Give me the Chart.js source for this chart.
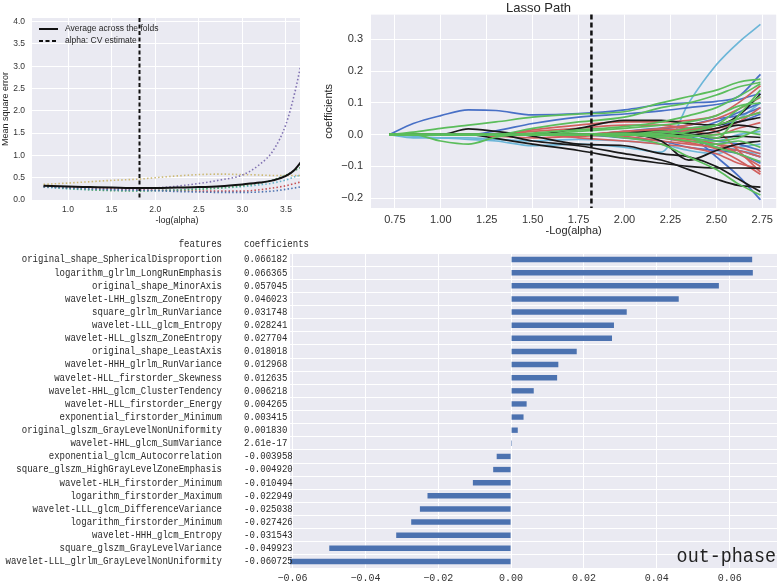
<!DOCTYPE html>
<html>
<head>
<meta charset="utf-8">
<script src="https://cdn.jsdelivr.net/npm/chart.js"></script>
<style>
  body { margin: 0; background: #fff; width: 778px; height: 583px; overflow: hidden; position: relative; }
  canvas { position: absolute; background: #fff; }
  #cv { left: 0; top: 0; }
  #path { left: 300px; top: 0; }
  #coef { left: 0; top: 238px; }
</style>
</head>
<body>
<canvas id="cv" width="325" height="230"></canvas>
<canvas id="path" width="478" height="238"></canvas>
<canvas id="coef" width="778" height="345"></canvas>
<script>
// ---- cross-validation curves (top left)
const alphaCV = 1.82;
const cvX = [0.72, 1.0, 1.25, 1.5, 1.83, 2.0, 2.25, 2.5, 2.75, 3.0, 3.2, 3.35, 3.5, 3.6, 3.7];
const meanMse = [0.32, 0.30, 0.29, 0.28, 0.27, 0.27, 0.28, 0.29, 0.31, 0.35, 0.39, 0.44, 0.54, 0.68, 0.92];
const foldBlue = [0.30, 0.27, 0.25, 0.23, 0.22, 0.21, 0.19, 0.18, 0.17, 0.17, 0.18, 0.20, 0.24, 0.27, 0.31];
const foldGreen = [0.30, 0.26, 0.23, 0.21, 0.20, 0.21, 0.22, 0.24, 0.27, 0.32, 0.38, 0.45, 0.56, 0.66, 0.76];
const foldRed = [0.30, 0.28, 0.27, 0.25, 0.23, 0.22, 0.21, 0.20, 0.20, 0.20, 0.23, 0.27, 0.32, 0.37, 0.42];
const foldPurple = [0.30, 0.29, 0.28, 0.27, 0.26, 0.27, 0.31, 0.37, 0.45, 0.56, 0.80, 1.10, 1.70, 2.40, 3.30];
const foldYellow = [0.35, 0.38, 0.41, 0.44, 0.47, 0.50, 0.54, 0.57, 0.58, 0.57, 0.56, 0.55, 0.55, 0.55, 0.55];
const foldCyan = [0.29, 0.25, 0.23, 0.22, 0.21, 0.22, 0.23, 0.25, 0.27, 0.30, 0.34, 0.38, 0.45, 0.52, 0.58];
const cvXTicks = [1.0, 1.5, 2.0, 2.5, 3.0, 3.5];
const cvYTicks = [0, 0.5, 1.0, 1.5, 2.0, 2.5, 3.0, 3.5, 4.0];

// ---- lasso path (top right)
const lassoX = [0.72, 0.85, 1.0, 1.15, 1.3, 1.5, 1.75, 2.0, 2.2, 2.35, 2.5, 2.62, 2.74];
const lassoGreen = [
  [0, 0, 0, 0, 0, 0, 0, 0.005, 0, -0.005, 0, 0.01, 0],
  [0, 0.008, 0.02, 0.03, 0.04, 0.055, 0.065, 0.072, 0.1, 0.12, 0.14, 0.165, 0.175],
  [0, 0, -0.02, -0.03, -0.008, 0.005, 0.015, 0.025, 0.04, 0.06, 0.085, 0.12, 0.16],
  [0, 0, 0, 0, 0, 0.02, 0.04, 0.055, 0.085, 0.1, 0.125, 0.15, 0.165],
  [0, 0, 0, 0, 0, 0, 0, -0.01, -0.03, -0.07, -0.11, -0.155, -0.19],
  [0, 0, 0, 0, 0, 0, 0, 0, 0.01, 0, -0.01, 0.06, 0.14],
  [0, 0, 0, 0, 0, 0, 0, 0, 0, -0.01, -0.02, -0.01, 0.02],
  [0, 0, 0, 0, 0, 0, 0, 0, -0.005, -0.01, -0.04, -0.06, -0.085],
  [0, 0, 0, 0, 0, 0, 0.01, 0.02, 0.03, 0.04, 0.06, 0.09, 0.1],
  [0, 0, 0, 0, 0, 0, 0, 0, 0.005, 0.02, 0.03, 0.05, 0.07],
  [0, 0, 0, 0, 0, 0, 0, 0, 0, 0.01, 0.03, 0.08, 0.12],
  [0, 0, 0, 0, 0, 0, 0, 0, -0.01, -0.02, -0.03, -0.02, -0.04]
];
const lassoBlack = [
  [0, 0, 0, 0.018, 0.01, -0.005, -0.03, -0.035, -0.06, -0.07, -0.1, -0.14, -0.18],
  [0, 0, 0, 0, -0.012, -0.03, -0.05, -0.075, -0.09, -0.1, -0.105, -0.105, -0.106],
  [0, 0, 0, 0, 0, -0.02, -0.035, -0.06, -0.08, -0.11, -0.14, -0.16, -0.165],
  [0, 0, 0, 0, 0, 0, 0.02, 0.045, 0.045, 0.035, 0.03, 0.06, 0.128],
  [0, 0, 0, 0, 0, 0, 0, 0, -0.02, -0.08, -0.05, -0.03, -0.02],
  [0, 0, 0, 0, 0, 0, 0, 0, 0, 0.005, 0.02, 0.04, 0.054],
  [0, 0, 0, 0, 0, 0, 0, 0.005, 0.01, 0, -0.01, -0.005, -0.009],
  [0, 0, 0, 0, 0, 0, 0, 0, 0, 0, 0.01, 0.03, 0.02]
];
const lassoRed = [
  [0, 0, 0, 0, 0, 0.015, 0.03, 0.04, 0.04, 0.045, 0.06, 0.1, 0.154],
  [0, 0, 0, 0, 0, 0.01, 0.02, 0.03, 0.03, 0.02, 0.01, -0.05, -0.118],
  [0, 0, 0, 0, 0, 0, -0.01, -0.02, -0.03, -0.04, -0.06, -0.09, -0.107],
  [0, 0, 0, 0, 0, 0, 0, 0.01, 0.02, 0.03, 0.05, 0.08, 0.118],
  [0, 0, 0, 0, 0, 0, 0, -0.005, -0.02, -0.03, -0.04, -0.05, -0.07],
  [0, 0, 0, 0, 0, 0, 0, 0, 0.01, 0.015, 0.02, 0.04, 0.085],
  [0, 0, 0, 0, 0, 0, 0, 0, -0.01, -0.025, -0.045, -0.08, -0.125],
  [0, 0, 0, 0, 0, 0, 0, 0, 0, 0.01, 0, 0.02, 0.038],
  [0, 0, 0, 0, -0.005, -0.01, -0.005, 0, -0.01, -0.02, -0.03, -0.04, -0.06],
  [0, 0, 0, 0, 0, 0, 0, 0.01, 0.015, 0.02, 0.03, 0.05, 0.07],
  [0, 0, 0, 0, 0, 0, 0, 0, -0.005, -0.015, -0.03, -0.06, -0.1]
];
const lassoBlue = [
  [0, 0.035, 0.06, 0.078, 0.076, 0.062, 0.066, 0.078, 0.095, 0.1, 0.105, 0.12, 0.19],
  [0, 0, 0, 0, 0.012, 0.035, 0.055, 0.065, 0.075, 0.085, 0.095, 0.11, 0.13],
  [0, 0, 0, 0, 0, 0, 0, 0.01, 0.02, 0, -0.07, -0.13, -0.205],
  [0, 0, 0, 0, 0, 0, 0, 0, 0.02, 0.03, 0.05, 0.06, 0.085],
  [0, 0, 0, 0, 0, 0, 0, -0.01, -0.02, -0.04, -0.05, -0.06, -0.09],
  [0, 0, 0, 0, 0, 0, 0, 0, 0, 0.01, 0.03, 0.04, 0.064],
  [0, 0, 0, 0, 0, 0, 0, 0, 0, 0, -0.02, -0.03, -0.05],
  [0, 0, 0, 0, 0, 0, 0, 0, 0.005, 0.015, 0.04, 0.07, 0.1],
  [0, 0, 0, 0, 0, 0, 0, 0, 0, -0.01, -0.04, -0.05, -0.07]
];
const lassoCyan = [
  [0, -0.01, -0.01, -0.015, -0.02, -0.035, -0.03, -0.04, -0.055, 0.1, 0.22, 0.29, 0.347],
  [0, -0.005, -0.01, -0.01, -0.015, -0.02, -0.015, -0.02, -0.03, -0.05, -0.06, -0.04, -0.03],
  [0, 0, 0, 0, 0, 0, 0, 0, 0.01, 0.02, 0.03, 0.05, 0.1],
  [0, 0, 0, 0, 0, 0, 0, 0, 0, -0.01, -0.02, 0, 0.01],
  [0, 0, 0, 0, 0, 0, 0, 0, 0, -0.005, -0.03, -0.05, -0.06]
];
const lassoXTicks = [0.75, 1.0, 1.25, 1.5, 1.75, 2.0, 2.25, 2.5, 2.75];
const lassoYTicks = [-0.2, -0.1, 0, 0.1, 0.2, 0.3];

// ---- selected features (bottom)
const featureNames = [
  'original_shape_SphericalDisproportion',
  'logarithm_glrlm_LongRunEmphasis',
  'original_shape_MinorAxis',
  'wavelet-LHH_glszm_ZoneEntropy',
  'square_glrlm_RunVariance',
  'wavelet-LLL_glcm_Entropy',
  'wavelet-HLL_glszm_ZoneEntropy',
  'original_shape_LeastAxis',
  'wavelet-HHH_glrlm_RunVariance',
  'wavelet-HLL_firstorder_Skewness',
  'wavelet-HHL_glcm_ClusterTendency',
  'wavelet-HLL_firstorder_Energy',
  'exponential_firstorder_Minimum',
  'original_glszm_GrayLevelNonUniformity',
  'wavelet-HHL_glcm_SumVariance',
  'exponential_glcm_Autocorrelation',
  'square_glszm_HighGrayLevelZoneEmphasis',
  'wavelet-HLH_firstorder_Minimum',
  'logarithm_firstorder_Maximum',
  'wavelet-LLL_glcm_DifferenceVariance',
  'logarithm_firstorder_Minimum',
  'wavelet-HHH_glcm_Entropy',
  'square_glszm_GrayLevelVariance',
  'wavelet-LLL_glrlm_GrayLevelNonUniformity'
];
const coefValues = [
  0.066182, 0.066365, 0.057045, 0.046023, 0.031748, 0.028241, 0.027704, 0.018018,
  0.012968, 0.012635, 0.006218, 0.004265, 0.003415, 0.001830, 2.61e-17, -0.003958,
  -0.004920, -0.010494, -0.022949, -0.025038, -0.027426, -0.031543, -0.049923, -0.060725
];
const coefXTicks = [-0.06, -0.04, -0.02, 0, 0.02, 0.04, 0.06];

Chart.defaults.font.family = '"Liberation Sans", Arial, sans-serif';
Chart.defaults.color = '#262626';

const PLOT_BG = '#EAEAF2';
const minus = s => s.replace('-', '\u2212');

const plotBg = {
  id: 'plotBg',
  beforeDraw(chart) {
    const a = chart.chartArea, ctx = chart.ctx;
    ctx.save();
    ctx.fillStyle = PLOT_BG;
    ctx.fillRect(a.left, a.top, a.right - a.left, a.bottom - a.top);
    ctx.restore();
  }
};

const cvLine = {
  id: 'cvLine',
  afterDatasetsDraw(chart, args, opts) {
    const a = chart.chartArea, ctx = chart.ctx;
    const x = chart.scales.x.getPixelForValue(alphaCV);
    ctx.save();
    ctx.strokeStyle = '#111';
    ctx.lineWidth = opts.width || 2;
    ctx.setLineDash(opts.dash || [4, 2.5]);
    ctx.beginPath();
    ctx.moveTo(x, a.top);
    ctx.lineTo(x, a.bottom);
    ctx.stroke();
    ctx.restore();
  }
};

function fixedTicks(list) {
  return s => { s.ticks = list.map(v => ({ value: v })); };
}

function sbGrid() {
  return { color: '#ffffff', lineWidth: 1, drawTicks: false };
}

// ---------- top left: CV mse ----------
const cvLegend = {
  id: 'cvLegend',
  afterDraw(chart) {
    const a = chart.chartArea, ctx = chart.ctx;
    ctx.save();
    ctx.strokeStyle = '#111';
    ctx.lineWidth = 2;
    ctx.beginPath();
    ctx.moveTo(a.left + 7, a.top + 11);
    ctx.lineTo(a.left + 26, a.top + 11);
    ctx.stroke();
    ctx.setLineDash([4, 2.5]);
    ctx.beginPath();
    ctx.moveTo(a.left + 7, a.top + 23);
    ctx.lineTo(a.left + 26, a.top + 23);
    ctx.stroke();
    ctx.fillStyle = '#262626';
    ctx.font = '8.5px "Liberation Sans", Arial, sans-serif';
    ctx.textBaseline = 'middle';
    ctx.fillText('Average across the folds', a.left + 33, a.top + 11);
    ctx.fillText('alpha: CV estimate', a.left + 33, a.top + 23);
    ctx.restore();
  }
};

const folds = [
  [foldBlue, '#4C72B0'], [foldGreen, '#55A868'], [foldRed, '#C44E52'],
  [foldPurple, '#8172B2'], [foldYellow, '#CCB974'], [foldCyan, '#64B5CD']
];

new Chart(document.getElementById('cv'), {
  type: 'line',
  data: {
    datasets: [
      {
        label: 'Average across the folds',
        data: cvX.map((x, i) => ({ x: x, y: meanMse[i] })),
        borderColor: '#111', borderWidth: 2
      }
    ].concat(folds.map(f => ({
      label: 'fold',
      data: cvX.map((x, i) => ({ x: x, y: f[0][i] })),
      borderColor: f[1], borderWidth: 1.6, borderDash: [1.5, 2.2]
    })))
  },
  options: {
    responsive: false,
    animation: false,
    events: [],
    layout: { padding: { top: 18, right: 3, left: 0, bottom: 0 } },
    elements: { point: { radius: 0 }, line: { cubicInterpolationMode: 'monotone' } },
    plugins: { legend: { display: false }, tooltip: { enabled: false }, cvLine: { width: 2, dash: [4, 2.5] } },
    scales: {
      x: {
        type: 'linear', min: 0.587, max: 3.913,
        border: { display: false }, grid: sbGrid(),
        afterBuildTicks: fixedTicks(cvXTicks),
        afterFit: s => { s.height = 30; },
        ticks: { font: { size: 8.5 }, padding: 5, color: '#333', callback: v => v.toFixed(1) },
        title: { display: true, text: '-log(alpha)', font: { size: 9 }, padding: { top: 0, bottom: 4 } }
      },
      y: {
        type: 'linear', min: 0, max: 4.08,
        border: { display: false }, grid: sbGrid(),
        afterBuildTicks: fixedTicks(cvYTicks),
        afterFit: s => { s.width = 32; },
        ticks: { font: { size: 8.5 }, padding: 7, color: '#333', callback: v => v.toFixed(1) },
        title: { display: true, text: 'Mean square error', font: { size: 9 }, padding: { top: 0, bottom: 0 } }
      }
    }
  },
  plugins: [plotBg, cvLine, cvLegend]
});

// ---------- top right: lasso path ----------
const lassoGroups = [
  [lassoGreen, '#5bbd5b'], [lassoBlack, '#1a1a1a'], [lassoRed, '#d0605e'],
  [lassoBlue, '#4870c6'], [lassoCyan, '#6cb6d8']
];
const lassoSets = [];
lassoGroups.forEach(g => {
  g[0].forEach(path => {
    lassoSets.push({
      data: lassoX.map((x, i) => ({ x: x, y: path[i] })),
      borderColor: g[1], borderWidth: 1.7
    });
  });
});

new Chart(document.getElementById('path'), {
  type: 'line',
  data: { datasets: lassoSets },
  options: {
    responsive: false,
    animation: false,
    events: [],
    layout: { padding: { top: 1, right: 1, left: 0, bottom: 0 } },
    elements: { point: { radius: 0 }, line: { cubicInterpolationMode: 'monotone' } },
    plugins: {
      legend: { display: false }, tooltip: { enabled: false },
      title: { display: true, text: 'Lasso Path', font: { size: 13, weight: 'normal', lineHeight: 0.95 }, padding: 0, color: '#262626' },
      cvLine: { width: 2.5, dash: [5, 3] }
    },
    scales: {
      x: {
        type: 'linear', min: 0.62, max: 2.826,
        border: { display: false }, grid: sbGrid(),
        afterBuildTicks: fixedTicks(lassoXTicks),
        afterFit: s => { s.height = 30; },
        ticks: { font: { size: 11 }, padding: 5, color: '#333', callback: v => v.toFixed(2) },
        title: { display: true, text: '-Log(alpha)', font: { size: 11 }, padding: { top: 0, bottom: 0 } }
      },
      y: {
        type: 'linear', min: -0.231, max: 0.378,
        border: { display: false }, grid: sbGrid(),
        afterBuildTicks: fixedTicks(lassoYTicks),
        afterFit: s => { s.width = 71; },
        ticks: { font: { size: 11 }, padding: 8, color: '#333', callback: v => minus(v.toFixed(1)) },
        title: { display: true, text: 'coefficients', font: { size: 11 }, padding: { top: 22, bottom: 0 } }
      }
    }
  },
  plugins: [plotBg, cvLine]
});

// ---------- bottom: coefficients table + bars ----------
const fmtCoef = v => (Math.abs(v) < 1e-6 ? v.toExponential(2) : v.toFixed(6));

const coefTable = {
  id: 'coefTable',
  afterDraw(chart) {
    const ctx = chart.ctx, ys = chart.scales.y, a = chart.chartArea;
    const put = (text, x, y, align, sx) => {
      ctx.save();
      ctx.translate(x, y);
      ctx.scale(sx, 1);
      ctx.textAlign = align;
      ctx.fillText(text, 0, 0);
      ctx.restore();
    };
    ctx.save();
    ctx.fillStyle = '#2a2a2a';
    ctx.textBaseline = 'middle';
    ctx.font = '11px "Liberation Mono", "DejaVu Sans Mono", monospace';
    put('features', 222, 6, 'right', 0.82);
    put('coefficients', 244, 6, 'left', 0.82);
    featureNames.forEach((n, i) => {
      const y = ys.getPixelForValue(i);
      put(n, 222, y, 'right', 0.82);
      put(fmtCoef(coefValues[i]), 244, y, 'left', 0.82);
    });
    ctx.fillStyle = '#222';
    ctx.font = '20px "Liberation Mono", "DejaVu Sans Mono", monospace';
    put('out-phase', a.right - 1, a.bottom - 11, 'right', 0.92);
    ctx.restore();
  }
};

new Chart(document.getElementById('coef'), {
  type: 'bar',
  data: {
    labels: featureNames,
    datasets: [{
      data: coefValues,
      backgroundColor: '#4C72B0',
      borderWidth: 0,
      barPercentage: 0.41,
      categoryPercentage: 1
    }]
  },
  options: {
    indexAxis: 'y',
    responsive: false,
    animation: false,
    events: [],
    layout: { padding: { top: 15, right: 1, left: 0, bottom: 0 } },
    plugins: { legend: { display: false }, tooltip: { enabled: false } },
    scales: {
      x: {
        type: 'linear', min: -0.0607, max: 0.073,
        border: { display: false }, grid: sbGrid(),
        afterBuildTicks: fixedTicks(coefXTicks),
        afterFit: s => { s.height = 15; },
        ticks: {
          font: { family: '"Liberation Mono", monospace', size: 10 }, padding: 4, color: '#333',
          callback: v => minus(v.toFixed(2))
        }
      },
      y: {
        border: { display: false },
        grid: { color: '#ffffff', lineWidth: 1, drawTicks: false, offset: true },
        afterFit: s => { s.width = 290; },
        ticks: { display: false }
      }
    }
  },
  plugins: [plotBg, coefTable]
});
</script>
</body>
</html>
